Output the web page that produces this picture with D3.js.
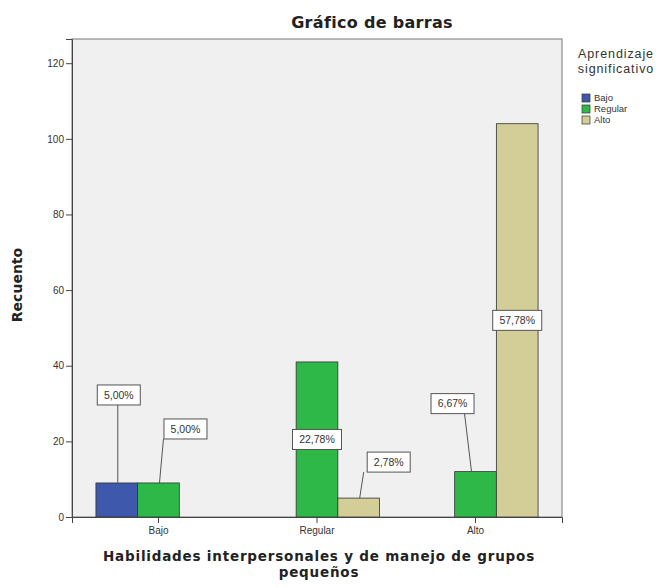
<!DOCTYPE html>
<html>
<head>
<meta charset="utf-8">
<script src="https://cdn.jsdelivr.net/npm/d3@7"></script>
<style>
	body { margin: 0; background: #fff; }
	svg { display: block; }
</style>
</head>
<body>
<div id="chart"></div>
<script>
// categories on the x axis and the series (legend) levels
var categories = ['Bajo', 'Regular', 'Alto'];
var seriesNames = ['Bajo', 'Regular', 'Alto'];

// counts per category, one array per series (0 = no bar)
var bajoCounts = [9, 0, 0];
var regularCounts = [9, 41, 12];
var altoCounts = [0, 5, 104];

// percentage labels, as SPSS printed them
var bajoLabels = ['5,00%', '', ''];
var regularLabels = ['5,00%', '22,78%', '6,67%'];
var altoLabels = ['', '2,78%', '57,78%'];

var yTicks = [0, 20, 40, 60, 80, 100, 120];

var width = 657,
	height = 588,
	margin = { left: 72, right: 95, top: 39, bottom: 71 };

var colors = ['#3e58ac', '#2eb848', '#d3ce97'];

// where the small-bar callouts sit relative to the bar top (layout only)
var callouts = {
	'Bajo|Bajo': [2, -88],
	'Bajo|Regular': [27, -54],
	'Regular|Alto': [30, -36],
	'Alto|Regular': [-23, -68]
};

var seriesCounts = [bajoCounts, regularCounts, altoCounts];
var seriesLabels = [bajoLabels, regularLabels, altoLabels];

var data = [];
categories.forEach(function(c, i) {
	seriesNames.forEach(function(s, j) {
		data.push({ cat: c, series: s, idx: j, count: seriesCounts[j][i], label: seriesLabels[j][i] });
	});
});

var svg = d3.select('#chart').append('svg')
	.attr('width', width)
	.attr('height', height);

var x0 = d3.scaleBand()
	.domain(categories)
	.range([margin.left, width - margin.right])
	.paddingInner(0.211)
	.paddingOuter(0.151);

var x1 = d3.scaleBand()
	.domain(seriesNames)
	.range([0, x0.bandwidth()]);

var y = d3.scaleLinear()
	.domain([0, 126.4])
	.range([height - margin.bottom, margin.top]);

var plotW = width - margin.left - margin.right,
	plotH = height - margin.top - margin.bottom;

// plot background
svg.append('rect')
	.attr('x', margin.left)
	.attr('y', margin.top)
	.attr('width', plotW)
	.attr('height', plotH)
	.style('fill', '#f0f0f0')
	.style('stroke', '#8c8c8c')
	.style('stroke-width', 1.2);

// bars
var bars = data.filter(function(d) { return d.count > 0; });

svg.selectAll('.bar')
	.data(bars)
	.enter().append('rect')
	.attr('class', 'bar')
	.attr('x', function(d) { return x0(d.cat) + x1(d.series); })
	.attr('y', function(d) { return y(d.count); })
	.attr('width', x1.bandwidth())
	.attr('height', function(d) { return y(0) - y(d.count); })
	.style('fill', function(d) { return colors[d.idx]; })
	.style('stroke', '#333')
	.style('stroke-width', 0.8);

// axes
var yAxis = svg.append('g')
	.attr('transform', 'translate(' + margin.left + ',0)')
	.call(d3.axisLeft(y).tickValues(yTicks).tickSize(6).tickPadding(2));

var xAxis = svg.append('g')
	.attr('transform', 'translate(0,' + y(0) + ')')
	.call(d3.axisBottom(x0).tickSize(6).tickPadding(4));

[yAxis, xAxis].forEach(function(a) {
	a.select('.domain').style('stroke', '#444');
	a.selectAll('.tick line').style('stroke', '#444');
	a.selectAll('.tick text')
		.style('font-family', '"Liberation Sans Narrow", "Liberation Sans", Arial, sans-serif')
		.style('font-size', '10px')
		.style('fill', '#333');
});

// value labels
var labelFont = '"Liberation Sans", Arial, sans-serif';
var labelled = bars.filter(function(d) { return d.label; });

svg.selectAll('.lab')
	.data(labelled)
	.enter().append('g')
	.attr('class', 'lab')
	.each(function(d) {
		var cx = x0(d.cat) + x1(d.series) + x1.bandwidth() / 2;
		var top = y(d.count);
		var off = callouts[d.cat + '|' + d.series];
		var bx, by;
		if (off) {
			bx = cx + off[0];
			by = top + off[1];
		} else {
			bx = cx;
			by = (top + y(0)) / 2;
		}
		var g = d3.select(this);
		var bw = d.label.length > 5 ? 49 : 43, bh = 20;
		if (off) {
			var shift = off[0] > 5 ? 5 : (off[0] < -5 ? -11 : 1);
			g.append('line')
				.attr('x1', cx + (off[0] > 5 ? 1 : (off[0] < -5 ? -4 : 1)))
				.attr('y1', top)
				.attr('x2', cx + shift)
				.attr('y2', by + bh / 2)
				.style('stroke', '#555')
				.style('stroke-width', 1);
		}
		g.append('rect')
			.attr('x', bx - bw / 2)
			.attr('y', by - bh / 2)
			.attr('width', bw)
			.attr('height', bh)
			.style('fill', '#fff')
			.style('stroke', '#555')
			.style('stroke-width', 1);
		g.append('text')
			.attr('x', bx)
			.attr('y', by)
			.attr('dy', '0.36em')
			.attr('text-anchor', 'middle')
			.style('font-family', labelFont)
			.style('font-size', '10.5px')
			.style('fill', '#333')
			.text(d.label);
	});

// titles
var boldFont = '"DejaVu Sans", Verdana, sans-serif';

svg.append('text')
	.attr('x', 372)
	.attr('y', 28)
	.attr('text-anchor', 'middle')
	.style('font-family', boldFont)
	.style('font-weight', 'bold')
	.style('font-size', '16px')
	.style('letter-spacing', '0.3px')
	.style('fill', '#222')
	.text('Gráfico de barras');

svg.append('text')
	.attr('transform', 'translate(22,' + (margin.top + plotH / 2 + 7) + ') rotate(-90)')
	.attr('text-anchor', 'middle')
	.style('font-family', boldFont)
	.style('font-weight', 'bold')
	.style('font-size', '14px')
	.style('fill', '#222')
	.text('Recuento');

var xt = svg.append('text')
	.attr('text-anchor', 'middle')
	.style('font-family', boldFont)
	.style('font-weight', 'bold')
	.style('font-size', '13.5px')
	.style('letter-spacing', '0.8px')
	.style('fill', '#222');
xt.append('tspan').attr('x', margin.left + plotW / 2 + 2).attr('y', 561).text('Habilidades interpersonales y de manejo de grupos');
xt.append('tspan').attr('x', margin.left + plotW / 2 + 2).attr('y', 577).text('pequeños');

// legend
var legendFont = '"Liberation Sans Narrow", "Liberation Sans", Arial, sans-serif';
var lt = svg.append('text')
	.attr('text-anchor', 'middle')
	.style('font-family', legendFont)
	.style('font-size', '12.5px')
	.style('letter-spacing', '0.9px')
	.style('fill', '#333');
lt.append('tspan').attr('x', 616).attr('y', 58).text('Aprendizaje');
lt.append('tspan').attr('x', 616).attr('y', 73).text('significativo');

var legend = svg.selectAll('.legend')
	.data(seriesNames)
	.enter().append('g')
	.attr('class', 'legend')
	.attr('transform', function(d, i) { return 'translate(582,' + (94 + i * 11) + ')'; });

legend.append('rect')
	.attr('width', 8)
	.attr('height', 8)
	.style('fill', function(d, i) { return colors[i]; })
	.style('stroke', '#333')
	.style('stroke-width', 0.7);

legend.append('text')
	.attr('x', 12)
	.attr('y', 4)
	.attr('dy', '0.35em')
	.style('font-family', legendFont)
	.style('font-size', '9.5px')
	.style('fill', '#333')
	.text(function(d) { return d; });
</script>
</body>
</html>
